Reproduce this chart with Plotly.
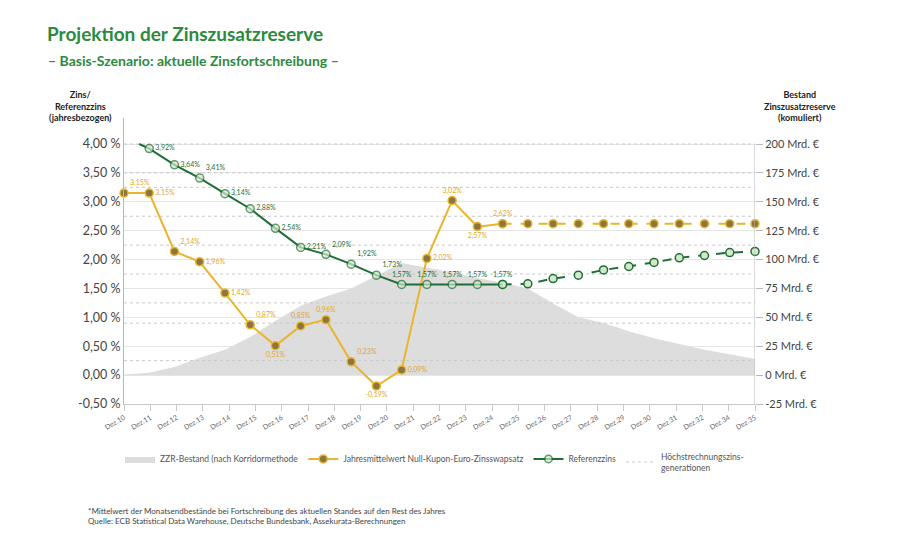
"""Projektion der Zinszusatzreserve - Basis-Szenario"""

import plotly.graph_objects as go

# x categories (tick labels as printed in the original, Dez.33 is missing there)
tick_labels = ["Dez.10", "Dez.11", "Dez.12", "Dez.13", "Dez.14", "Dez.15",
               "Dez.16", "Dez.17", "Dez.18", "Dez.19", "Dez.20", "Dez.21",
               "Dez.22", "Dez.23", "Dez.24", "Dez.25", "Dez.26", "Dez.27",
               "Dez.28", "Dez.29", "Dez.30", "Dez.31", "Dez.32", "Dez.34",
               "Dez.35"]

# year index 0..25 (Dez.10 .. Dez.35)
years = list(range(26))

# ZZR-Bestand in Mrd. EUR (right axis)
zzr_bestand = [0.5, 2, 7, 15, 22, 33, 47, 60, 68, 75, 86, 97, 93, 89, 84, 80,
               75, 62, 50, 45, 38, 32, 27, 22, 18, 14]

# Jahresmittelwert Null-Kupon-Euro-Zinsswapsatz, actual part and projection
swap_x = list(range(16))
swap_rate = [3.15, 3.15, 2.14, 1.96, 1.42, 0.87, 0.51, 0.85, 0.96, 0.23,
             -0.19, 0.09, 2.02, 3.02, 2.57, 2.62]
swap_proj_x = list(range(15, 26))
swap_proj = [2.62, 2.62, 2.62, 2.62, 2.62, 2.62, 2.62, 2.62, 2.62, 2.62, 2.62]

# Referenzzins, actual part and projection
ref_x = [0.6] + list(range(1, 16))
ref_rate = [4.00, 3.92, 3.64, 3.41, 3.14, 2.88, 2.54, 2.21, 2.09, 1.92, 1.73,
            1.57, 1.57, 1.57, 1.57, 1.57]
ref_proj_x = list(range(15, 26))
ref_proj = [1.57, 1.58, 1.67, 1.73, 1.82, 1.88, 1.95, 2.03, 2.07, 2.12, 2.14]

# Hoechstrechnungszins-Generationen
hrz_levels = [4.00, 3.50, 3.25, 2.75, 2.25, 1.75, 1.25, 0.90, 0.25]

# axis ticks
pct_ticks = [-0.5, 0, 0.5, 1, 1.5, 2, 2.5, 3, 3.5, 4]
mrd_ticks = [-25, 0, 25, 50, 75, 100, 125, 150, 175, 200]

YELLOW = "#e9b52c"
YELLOW_DOT = "#8c7541"
GREEN = "#1f6e36"
GREEN_DOT = "#d5e8cc"
TITLE_GREEN = "#2b8a3e"
FONT = "Lato"

# the page puts the figure 8px in from the top left corner
OFF = 8
# plot area in screenshot pixels
L, R, T, B = 124, 755, 118, 404.5


def px(x):
    return (x - L) / (R - L)


def py(y):
    return (B - y) / (B - T)


def pct(v):
    return f"{v:.2f}".replace(".", ",") + "%"


swap_pos = ["top right", "middle right", "top right", "middle right",
            "middle right", "top right", "bottom center", "top center",
            "top center", "top right", "bottom center", "middle right",
            "middle right", "top center", "bottom center", "top center"]
ref_pos = ["middle right", "middle right", "middle right", "top right",
           "middle right", "middle right", "middle right", "middle right",
           "top right", "top right", "top right", "top center", "top center",
           "top center", "top center", "top center"]

fig = go.Figure()

fig.add_trace(go.Scatter(
    x=years, y=zzr_bestand, yaxis="y", mode="lines", fill="tozeroy",
    fillcolor="#dddddd", line=dict(width=0, color="#dddddd"),
    name="ZZR-Bestand (nach Korridormethode", legendrank=1,
    hoverinfo="skip"))

# Hoechstrechnungszins lines, separated by None
hx, hy = [], []
for lvl in hrz_levels:
    hx += [0, 25, None]
    hy += [lvl, lvl, None]
fig.add_trace(go.Scatter(
    x=hx, y=hy, yaxis="y2", mode="lines",
    line=dict(color="#c8c8c8", width=1, dash="dot"),
    name="Höchstrechnungszins-<br>generationen", legendrank=4))

fig.add_trace(go.Scatter(
    x=swap_x, y=swap_rate, yaxis="y2", mode="lines+markers+text",
    line=dict(color=YELLOW, width=2),
    marker=dict(size=8, color=YELLOW_DOT, line=dict(color=YELLOW, width=1.5)),
    text=[pct(v) for v in swap_rate], textposition=swap_pos,
    textfont=dict(size=7, color="#e0a828", family=FONT),
    cliponaxis=False, legendrank=2,
    name="Jahresmittelwert Null-Kupon-Euro-Zinsswapsatz"))
fig.add_trace(go.Scatter(
    x=swap_proj_x, y=swap_proj, yaxis="y2", mode="lines+markers",
    line=dict(color=YELLOW, width=2, dash="dash"),
    marker=dict(size=8, color=YELLOW_DOT, line=dict(color=YELLOW, width=1.5)),
    cliponaxis=False, showlegend=False))

fig.add_trace(go.Scatter(
    x=ref_proj_x, y=ref_proj, yaxis="y2", mode="lines+markers",
    line=dict(color=GREEN, width=2, dash="dash"),
    marker=dict(size=8, color=GREEN_DOT, line=dict(color=GREEN, width=1.5)),
    cliponaxis=False, showlegend=False))
fig.add_trace(go.Scatter(
    x=ref_x, y=ref_rate, yaxis="y2", mode="lines+markers+text",
    line=dict(color=GREEN, width=2),
    marker=dict(size=[0] + [8] * 15, color=GREEN_DOT,
                line=dict(color=GREEN, width=1.5)),
    text=[""] + [pct(v) for v in ref_rate[1:]], textposition=ref_pos,
    textfont=dict(size=7, color=GREEN, family=FONT),
    cliponaxis=False, legendrank=3, name="Referenzzins"))

# right axis line only from -25 to 200
fig.add_shape(type="line", xref="x", yref="y", x0=25, x1=25, y0=-25, y1=200,
              line=dict(color="#b8b8b8", width=1))

fig.update_layout(
    width=900, height=537, autosize=False,
    margin=dict(l=L - OFF, r=900 - R + OFF, t=T - OFF, b=537 - B + OFF),
    paper_bgcolor="white", plot_bgcolor="white",
    separators=",.",
    font=dict(family=FONT, color="#444444"),
    title=dict(text="Projektion der Zinszusatzreserve",
               x=(47 - OFF) / 900, xanchor="left",
               y=1 - (34 - OFF) / 537, yanchor="middle",
               font=dict(size=19, color=TITLE_GREEN, family=FONT,
                         weight="bold")),
    xaxis=dict(range=[0, 25], tickvals=[i * 25 / 24 for i in range(25)],
               ticktext=tick_labels, tickangle=-30,
               tickfont=dict(size=7, color="#666666"),
               showgrid=False, zeroline=False, showline=True,
               linecolor="#c8c8c8", ticks="outside", ticklen=6,
               tickcolor="#c8c8c8"),
    # Mrd. EUR axis (right) is the base axis so the area lies under the lines
    yaxis=dict(range=[-25, 222.5], side="right", tickvals=mrd_ticks,
               ticktext=[f"{v} Mrd. €" for v in mrd_ticks],
               tickfont=dict(size=11, color="#444444"),
               showgrid=True, gridcolor="#e6e6e6", zeroline=False,
               showline=False, ticks="outside", ticklen=7,
               tickcolor="#b8b8b8"),
    yaxis2=dict(range=[-0.5, 4.45], side="left", overlaying="y",
                tickvals=pct_ticks,
                ticktext=[f"{v:.2f}".replace(".", ",") + " %"
                          for v in pct_ticks],
                tickfont=dict(size=12.5, color="#444444"),
                showgrid=False, zeroline=False,
                showline=True, linecolor="#b8b8b8", ticks=""),
    legend=dict(orientation="h", x=px(120), y=py(463), xanchor="left",
                yanchor="middle", itemwidth=30,
                font=dict(size=8.5, color="#555555"), traceorder="normal"),
)

fig.add_annotation(
    xref="paper", yref="paper", x=px(46), y=py(60), xanchor="left",
    yanchor="middle", showarrow=False,
    text="– Basis-Szenario: aktuelle Zinsfortschreibung –",
    font=dict(size=14, color=TITLE_GREEN, weight="bold"))

fig.add_annotation(
    xref="paper", yref="paper", x=px(80), y=py(106), xanchor="center",
    yanchor="middle", showarrow=False, align="center",
    text="Zins/<br>Referenzzins<br>(jahresbezogen)",
    font=dict(size=9, color="#222222", weight="bold"))
fig.add_annotation(
    xref="paper", yref="paper", x=px(800), y=py(106), xanchor="center",
    yanchor="middle", showarrow=False, align="center",
    text="Bestand<br>Zinszusatzreserve<br>(komuliert)",
    font=dict(size=9, color="#222222", weight="bold"))

fig.add_annotation(
    xref="paper", yref="paper", x=px(86), y=py(517), xanchor="left",
    yanchor="middle", showarrow=False, align="left",
    text="*Mittelwert der Monatsendbestände bei Fortschreibung des aktuellen "
         "Standes auf den Rest des Jahres<br>Quelle: ECB Statistical Data "
         "Warehouse, Deutsche Bundesbank, Assekurata-Berechnungen",
    font=dict(size=8, color="#444444"))

fig.write_html("out.html")
